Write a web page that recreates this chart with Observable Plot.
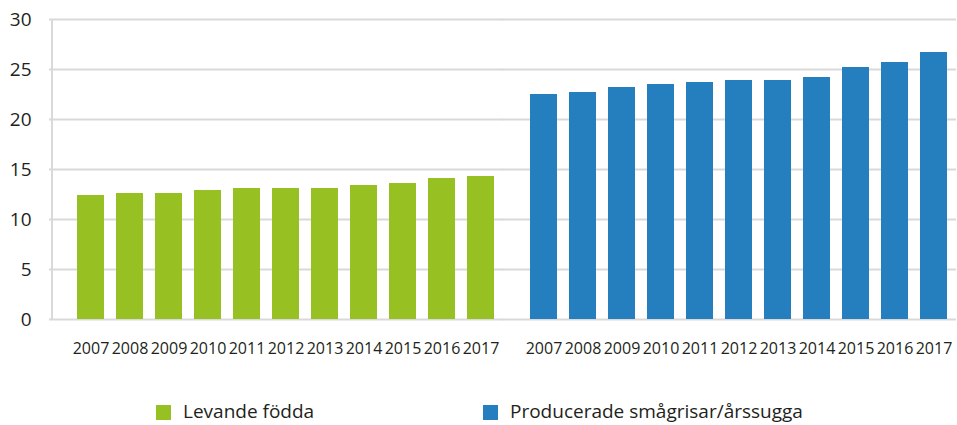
<!DOCTYPE html>
<html>
<head>
<meta charset="utf-8">
<script src="https://cdn.jsdelivr.net/npm/d3@7"></script>
<script src="https://cdn.jsdelivr.net/npm/@observablehq/plot@0.6"></script>
<style>
  body { margin: 0; background: #ffffff; font-family: "Open Sans", sans-serif; overflow: hidden; }
  #chart { width: 957px; height: 370px; }
  #legend { position: relative; width: 957px; height: 55px; }
  .item { position: absolute; top: 31px; display: flex; align-items: center; font-size: 19px; color: #231f20; white-space: nowrap; line-height: 20px; height: 20px; }
  .sw { width: 15px; height: 15px; margin-right: 12px; margin-top: 2px; }
</style>
</head>
<body>
<div id="chart"></div>
<div id="legend"></div>
<script>
const years = ["2007", "2008", "2009", "2010", "2011", "2012", "2013", "2014", "2015", "2016", "2017"];
const seriesNames = ["Levande födda", "Producerade smågrisar/årssugga"];
const levandeFodda = [12.4, 12.6, 12.6, 12.9, 13.1, 13.1, 13.1, 13.4, 13.6, 14.1, 14.3];
const producerade = [22.5, 22.7, 23.2, 23.5, 23.7, 23.9, 23.9, 24.2, 25.2, 25.7, 26.7];
const colors = ["#97c022", "#257ebe"];
const yTicks = [0, 5, 10, 15, 20, 25, 30];
const legendLeft = [156, 483];

const rows = [];
years.forEach((yr, i) => rows.push({series: seriesNames[0], year: yr, value: levandeFodda[i]}));
years.forEach((yr, i) => rows.push({series: seriesNames[1], year: yr, value: producerade[i]}));
const axisRow = rows.filter(d => d.series === seriesNames[0] && d.year === years[0]);

const chart = Plot.plot({
  width: 957,
  height: 370,
  marginTop: 19,
  marginBottom: 51,
  marginLeft: 68,
  marginRight: 0,
  style: {fontFamily: "'Open Sans', sans-serif", color: "#231f20", background: "#ffffff"},
  fx: {domain: seriesNames, paddingInner: 0.039, paddingOuter: 0, axis: null, label: null},
  x: {domain: years, paddingInner: 0.3, paddingOuter: 0.15, label: null},
  y: {domain: [0, 30], label: null},
  color: {domain: seriesNames, range: colors},
  marks: [
    Plot.ruleY(yTicks, {stroke: "#d9d9d9", strokeWidth: 2, insetLeft: -19}),
    Plot.ruleX(axisRow, {x: "year", fx: "series", y1: 0, y2: 30, dx: -39, stroke: "#d9d9d9", strokeWidth: 2}),
    Plot.barY(rows, {fx: "series", x: "year", y: "value", fill: "series"}),
    Plot.axisX({tickSize: 0, tickPadding: 23, fontSize: 16}),
    Plot.axisY({ticks: yTicks, tickSize: 0, tickPadding: 37, fontSize: 19})
  ]
});
document.getElementById("chart").appendChild(chart);

const legend = document.getElementById("legend");
seriesNames.forEach((name, i) => {
  const item = document.createElement("div");
  item.className = "item";
  item.style.left = legendLeft[i] + "px";
  const sw = document.createElement("span");
  sw.className = "sw";
  sw.style.background = colors[i];
  const label = document.createElement("span");
  label.textContent = name;
  item.appendChild(sw);
  item.appendChild(label);
  legend.appendChild(item);
});
</script>
</body>
</html>
